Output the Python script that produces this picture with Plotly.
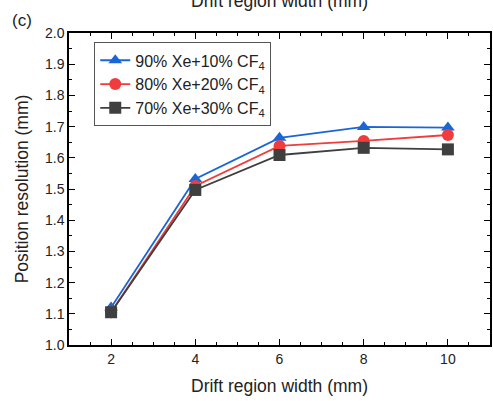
import plotly.graph_objects as go

x_vals = [2, 4, 6, 8, 10]
xe90 = [1.12, 1.532, 1.664, 1.699, 1.697]
xe80 = [1.105, 1.51, 1.638, 1.654, 1.673]
xe70 = [1.105, 1.497, 1.609, 1.632, 1.627]
names = ["90% Xe+10% CF<sub>4</sub>", "80% Xe+20% CF<sub>4</sub>", "70% Xe+30% CF<sub>4</sub>"]
colors = ["#1a66d9", "#f03c3c", "#3f3f3f"]
symbols = ["triangle-up", "circle", "square"]

fig = go.Figure()
for ys, n, c, s in zip([xe90, xe80, xe70], names, colors, symbols):
    fig.add_trace(go.Scatter(x=x_vals, y=ys, name=n, mode="lines+markers",
                             line=dict(color=c, width=1.8),
                             marker=dict(symbol=s, size=12, color=c)))

axis_common = dict(showline=True, linecolor="black", linewidth=1.5, mirror="allticks",
                   ticks="inside", ticklen=6, tickwidth=1.2, tickcolor="black",
                   showgrid=False, zeroline=False,
                   tickfont=dict(size=14, color="#222"),
                   minor=dict(ticks="inside", ticklen=3, tickwidth=1, tickcolor="black"))

fig.update_xaxes(range=[1, 11], tickvals=[2, 4, 6, 8, 10],
                 minor_dtick=0.5,
                 title=dict(text="Drift region width (mm)", font=dict(size=17.5, color="#222"), standoff=14),
                 **axis_common)
fig.update_yaxes(range=[1.0, 2.0], dtick=0.1, tickformat=".1f",
                 minor_dtick=0.05,
                 title=dict(text="Position resolution (mm)", font=dict(size=17.5, color="#222"), standoff=12),
                 **axis_common)

fig.add_annotation(text="Drift region width (mm)", xref="paper", yref="paper",
                   x=0.5, y=1.0, yshift=44, showarrow=False, font=dict(size=17.5, color="#222"))
fig.add_annotation(text="(c)", xref="paper", yref="paper", x=-0.14, y=1.0, yshift=24,
                   xanchor="left", showarrow=False, font=dict(size=17, color="#222"))

fig.update_layout(width=493, height=401, plot_bgcolor="white", paper_bgcolor="white",
                  margin=dict(l=69, r=1, t=33, b=56),
                  font=dict(family="Liberation Sans, Arial"),
                  legend=dict(x=0.06, y=0.97, xanchor="left", yanchor="top",
                              bgcolor="white", bordercolor="#555", borderwidth=1,
                              font=dict(size=16, color="#222"), tracegroupgap=0,
                              itemwidth=30),
                  showlegend=True)

fig.write_html("out.html")
